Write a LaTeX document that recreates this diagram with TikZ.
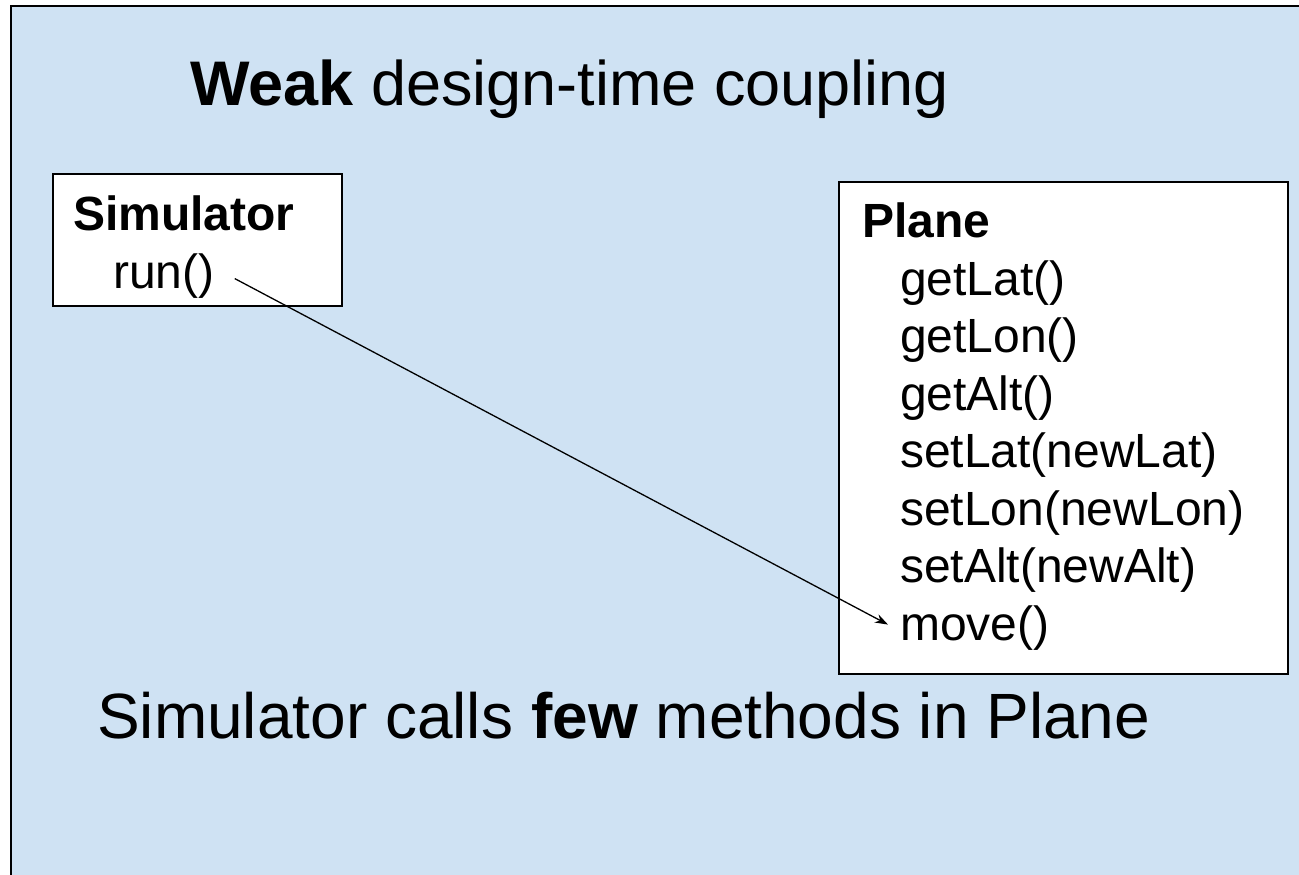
\documentclass[tikz,border=0pt]{standalone}
\usepackage{fontspec}
\setmainfont{Liberation Sans}
\usetikzlibrary{arrows.meta}
\definecolor{bgblue}{HTML}{CFE2F3}
\begin{document}
\begin{tikzpicture}[x=1pt,y=-1pt,
  txt/.style={inner sep=0pt,anchor=base west},
  big/.style={txt,font=\fontsize{63}{70}\selectfont},
  cls/.style={txt,font=\fontsize{48}{56}\selectfont},
  boxstyle/.style={draw=black,fill=white,line width=1.6pt},
  callarrow/.style={line width=1.3pt,-{Stealth[length=13pt,width=9pt]}}]
\useasboundingbox (0,0) rectangle (1299,875);
\fill[bgblue] (11,6) rectangle (1305,880);
\draw[line width=2.4pt] (11,880) -- (11,6) -- (1305,6);
\node[big] (title) at (190,105) {\textbf{Weak} design-time coupling};
\draw[boxstyle] (53,174) rectangle (342,306);
\node[cls] (simname) at (73,230) {\textbf{Simulator}};
\node[cls] (run) at (113,288) {run()};
\draw[boxstyle] (839,182) rectangle (1288,674);
\node[cls] (planename) at (862,237) {\textbf{Plane}};
\node[cls] (m1) at (900,295) {getLat()};
\node[cls] (m2) at (900,352.5) {getLon()};
\node[cls] (m3) at (900,410) {getAlt()};
\node[cls] (m4) at (900,467.5) {setLat(newLat)};
\node[cls] (m5) at (900,525) {setLon(newLon)};
\node[cls] (m6) at (900,582.5) {setAlt(newAlt)};
\node[cls] (move) at (900,640) {move()};
\draw[callarrow] ([xshift=20pt,yshift=-3pt]run.east) -- ([xshift=-12pt,yshift=3pt]move.west);
\node[big,font=\fontsize{64}{72}\selectfont] (caption) at (97,738) {Simulator calls \textbf{few} methods in Plane};
\end{tikzpicture}
\end{document}
